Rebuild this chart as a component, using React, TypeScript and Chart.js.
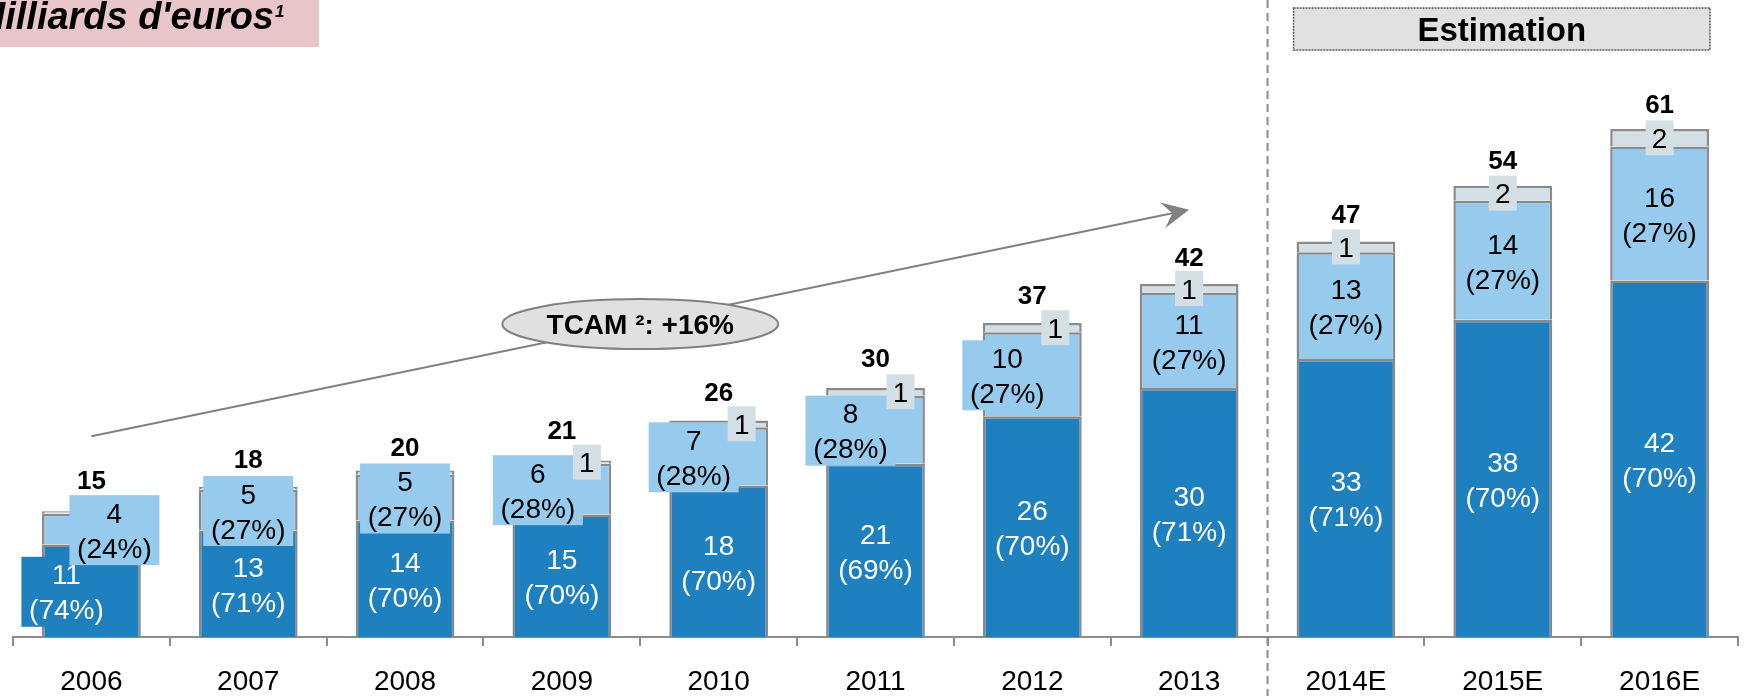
import React, { useEffect, useRef } from 'react';
import { Chart, registerables } from 'chart.js';

Chart.register(...registerables);

const FONT = '"Liberation Sans", Arial, Helvetica, sans-serif';

// ---- data ----
const categories = ['2006', '2007', '2008', '2009', '2010', '2011', '2012', '2013', '2014E', '2015E', '2016E'];
const darkValues = [11.1, 12.8, 14.0, 14.7, 18.2, 20.8, 26.5, 29.9, 33.4, 38.1, 42.8];
const lightValues = [3.7, 4.9, 5.5, 6.1, 7.0, 8.2, 10.1, 11.4, 12.8, 14.3, 16.1];
const greyValues = [0.3, 0.3, 0.5, 0.4, 0.8, 0.9, 1.1, 1.1, 1.3, 1.8, 2.1];
const totalLabels = ['15', '18', '20', '21', '26', '30', '37', '42', '47', '54', '61'];
const darkLabels = ['11', '13', '14', '15', '18', '21', '26', '30', '33', '38', '42'];
const darkShares = ['(74%)', '(71%)', '(70%)', '(70%)', '(70%)', '(69%)', '(70%)', '(71%)', '(71%)', '(70%)', '(70%)'];
const lightLabels = ['4', '5', '5', '6', '7', '8', '10', '11', '13', '14', '16'];
const lightShares = ['(24%)', '(27%)', '(27%)', '(28%)', '(28%)', '(28%)', '(27%)', '(27%)', '(27%)', '(27%)', '(27%)'];
const greyLabels = ['', '', '', '1', '1', '1', '1', '1', '1', '2', '2'];
const titleText = "Milliards d'euros";
const titleNote = '1';
const cagrText = 'TCAM ²: +16%';
const estimationText = 'Estimation';
const trendStartValue = 24.1;
const trendEndValue = 51.3;
const trendStartIndex = 0;
const trendEndIndex = 7;
const estimateFromIndex = 8;

// ---- label placement (pixels, relative to the bars) ----
const darkDx = [-25, 0, 0, 0, 0, 0, 0, 0, 0, 0, 0];
const lightDx = [23, 0, 0, -24, -25, -25, -25, 0, 0, 0, 0];
const greyDx = [0, 0, 0, 25, 23, 25, 23, 0, 0, 0, 0];
const totalDy = [-32, -28, -24, -31, -29, -30, -28, -27, -28, -26, -25];

// ---- colours ----
const DARK = '#1f80c0';
const LIGHT = '#97cbee';
const GREY = '#d3dfe5';
const EDGE = '#8a8a8a';

const TICK_PAD = 22;

function drawLines(ctx: CanvasRenderingContext2D, lines: string[], cx: number, cy: number, size: number, weight: string, color: string) {
  ctx.font = `${weight} ${size}px ${FONT}`;
  ctx.fillStyle = color;
  ctx.textAlign = 'center';
  ctx.textBaseline = 'alphabetic';
  const lh = 35;
  const n = lines.length;
  lines.forEach((t, k) => {
    ctx.fillText(t, cx, cy + (k - (n - 1) / 2) * lh + 0.358 * size);
  });
}

const overlay = {
  id: 'overlay',
  beforeDatasetsDraw(chart: any) {
    const ctx: CanvasRenderingContext2D = chart.ctx;
    const xs = chart.scales.x;
    const xb = xs.getPixelForValue(estimateFromIndex - 0.5);
    ctx.save();
    ctx.strokeStyle = '#8c8c8c';
    ctx.lineWidth = 2;
    ctx.setLineDash([8, 5]);
    ctx.beginPath();
    ctx.moveTo(xb, 0);
    ctx.lineTo(xb, chart.height);
    ctx.stroke();
    ctx.restore();
  },
  afterDatasetsDraw(chart: any) {
    const ctx: CanvasRenderingContext2D = chart.ctx;
    const xs = chart.scales.x;
    const ys = chart.scales.y;
    const m0 = chart.getDatasetMeta(0).data;
    const m1 = chart.getDatasetMeta(1).data;
    const m2 = chart.getDatasetMeta(2).data;
    ctx.save();

    // dark labels
    m0.forEach((el: any, i: number) => {
      const cx = el.x + darkDx[i];
      const cy = (el.y + el.base) / 2 + 1;
      ctx.fillStyle = DARK;
      ctx.fillRect(cx - 45, cy - 35, 90, 70);
      drawLines(ctx, [darkLabels[i], darkShares[i]], cx, cy, 28, 'normal', '#ffffff');
    });
    // light labels
    m1.forEach((el: any, i: number) => {
      const cx = el.x + lightDx[i];
      const cy = (el.y + el.base) / 2 + 1;
      ctx.fillStyle = LIGHT;
      ctx.fillRect(cx - 45, cy - 35, 90, 70);
      drawLines(ctx, [lightLabels[i], lightShares[i]], cx, cy, 28, 'normal', '#000000');
    });
    // grey labels
    m2.forEach((el: any, i: number) => {
      if (!greyLabels[i]) return;
      const cx = el.x + greyDx[i];
      const cy = (el.y + el.base) / 2;
      ctx.fillStyle = GREY;
      ctx.fillRect(cx - 14, cy - 17.5, 28, 35);
      drawLines(ctx, [greyLabels[i]], cx, cy, 28, 'normal', '#000000');
    });
    // totals
    m2.forEach((el: any, i: number) => {
      drawLines(ctx, [totalLabels[i]], el.x, el.y + totalDy[i], 26, 'bold', '#000000');
    });

    // trend arrow
    const x0 = xs.getPixelForValue(trendStartIndex);
    const x1 = xs.getPixelForValue(trendEndIndex);
    const y0 = ys.getPixelForValue(trendStartValue);
    const y1 = ys.getPixelForValue(trendEndValue);
    const dx = x1 - x0, dy = y1 - y0;
    const len = Math.hypot(dx, dy);
    const ux = dx / len, uy = dy / len;
    const px = -uy, py = ux;
    ctx.strokeStyle = '#808080';
    ctx.lineWidth = 2;
    ctx.beginPath();
    ctx.moveTo(x0, y0);
    ctx.lineTo(x1 - ux * 16, y1 - uy * 16);
    ctx.stroke();
    const L = 27, W = 13, N = 17;
    ctx.fillStyle = '#808080';
    ctx.beginPath();
    ctx.moveTo(x1, y1);
    ctx.lineTo(x1 - ux * L + px * W, y1 - uy * L + py * W);
    ctx.lineTo(x1 - ux * N, y1 - uy * N);
    ctx.lineTo(x1 - ux * L - px * W, y1 - uy * L - py * W);
    ctx.closePath();
    ctx.fill();

    // CAGR ellipse
    const ex = (x0 + x1) / 2, ey = (y0 + y1) / 2 + 1;
    ctx.beginPath();
    ctx.ellipse(ex, ey, 138, 25, 0, 0, Math.PI * 2);
    ctx.fillStyle = '#e0e0e0';
    ctx.fill();
    ctx.strokeStyle = '#808080';
    ctx.lineWidth = 2;
    ctx.stroke();
    drawLines(ctx, [cagrText], ex, ey, 28, 'bold', '#000000');

    // Estimation box
    const a = m2[estimateFromIndex];
    const b = m2[m2.length - 1];
    const bx0 = a.x - a.width / 2 - 3;
    const bx1 = b.x + b.width / 2 + 1;
    ctx.fillStyle = '#e1e1e1';
    ctx.fillRect(bx0, 8, bx1 - bx0, 42);
    ctx.strokeStyle = '#555555';
    ctx.lineWidth = 1.5;
    ctx.setLineDash([2, 1]);
    ctx.strokeRect(bx0, 8, bx1 - bx0, 42);
    ctx.setLineDash([]);
    drawLines(ctx, [estimationText], (bx0 + bx1) / 2, 29.5, 33, 'bold', '#000000');

    // title box
    ctx.fillStyle = '#e8c5c8';
    ctx.fillRect(0, 0, 319, 47);
    ctx.fillStyle = '#000000';
    ctx.font = `italic bold 38px ${FONT}`;
    ctx.textAlign = 'right';
    ctx.textBaseline = 'alphabetic';
    ctx.fillText(titleText, 274, 28.5);
    ctx.font = `italic bold 17px ${FONT}`;
    ctx.textAlign = 'left';
    ctx.fillText(titleNote, 275, 17);

    ctx.restore();
  },
};

export default function App() {
  const ref = useRef<HTMLCanvasElement | null>(null);
  useEffect(() => {
    if (!ref.current) return;
    const border = { top: 2.5, left: 2.5, right: 2.5, bottom: 0 };
    const common = { borderColor: EDGE, borderWidth: border, borderSkipped: false as const, categoryPercentage: 1, barPercentage: 0.63 };
    const chart = new Chart(ref.current, {
      type: 'bar',
      data: {
        labels: categories,
        datasets: [
          { label: 'dark', data: darkValues, backgroundColor: DARK, ...common },
          { label: 'light', data: lightValues, backgroundColor: LIGHT, ...common },
          { label: 'grey', data: greyValues, backgroundColor: GREY, ...common },
        ],
      },
      options: {
        responsive: false,
        animation: false,
        devicePixelRatio: 1,
        // Chart.js reserves the tick padding twice below the axis; give one back
        layout: { padding: { left: 13, right: 7, top: 0, bottom: -TICK_PAD } },
        plugins: { legend: { display: false }, tooltip: { enabled: false } },
        scales: {
          x: {
            stacked: true,
            offset: true,
            grid: { offset: true, drawOnChartArea: false, drawTicks: true, tickLength: 9, color: '#8c8c8c', lineWidth: 2 },
            border: { display: true, color: '#8c8c8c', width: 2 },
            ticks: { color: '#000000', font: { family: FONT, size: 28, lineHeight: 1 }, padding: TICK_PAD, maxRotation: 0, autoSkip: false },
          },
          y: { stacked: true, display: false, min: 0, max: 76.5 },
        },
      },
      plugins: [overlay],
    });
    return () => chart.destroy();
  }, []);
  return (
    <canvas
      ref={ref}
      width={1745}
      height={696}
      style={{ position: 'absolute', left: 0, top: 0, display: 'block', background: '#ffffff' }}
    />
  );
}
